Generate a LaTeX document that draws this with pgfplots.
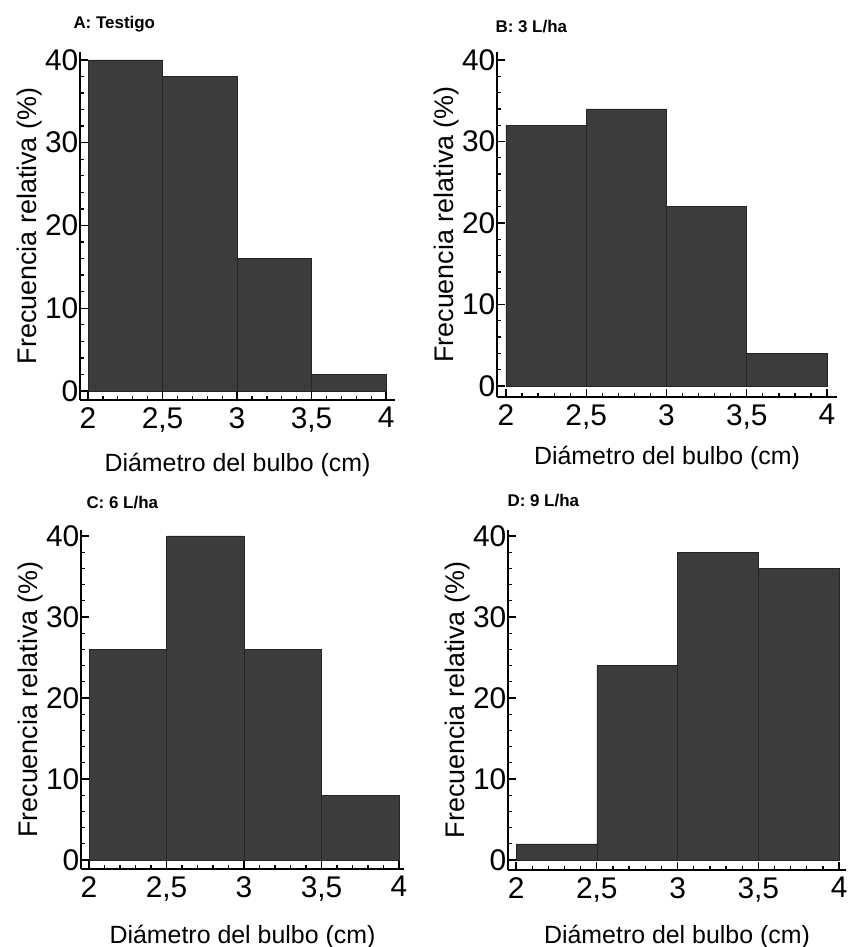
\documentclass[border=0pt]{standalone}
\usepackage{pgfplots}
\pgfplotsset{compat=1.18}
\usepackage{fontspec}
\setmainfont{Liberation Sans}
\definecolor{barfill}{RGB}{60,60,60}
\newcommand{\lblfont}{\fontsize{25}{28}\selectfont}
\newcommand{\ylblfont}{\fontsize{27}{30}\selectfont}
\pgfplotsset{
  hist/.style={
    scale only axis,
    axis lines=left,
    axis line style={-, line width=2bp, black},
    /pgf/number format/assume math mode=true,
    xtick={2,2.5,3,3.5,4},
    xticklabels={2,{2,5},3,{3,5},4},
    ytick={0,10,20,30,40},
    minor x tick num=4,
    minor y tick num=4,
    major tick length=8bp,
    minor tick length=4bp,
    every tick/.style={black, line width=1.3bp},
    tick align=inside,
    ticklabel style={font=\fontsize{30}{32}\selectfont},
    yticklabel style={inner sep=1.5bp},
    xticklabel style={inner sep=2bp, yshift=-5bp},
    ylabel={Frecuencia relativa (\%)},
    xlabel={Diámetro del bulbo (cm)},
    every axis y label/.style={at={([xshift=-50bp]axis description cs:0,0.5)}, rotate=90, anchor=center, font=\ylblfont},
    every axis x label/.style={at={([yshift=-65bp]axis description cs:0.5,0)}, anchor=center, font=\lblfont},
    title style={font=\fontsize{17}{19}\selectfont\bfseries, anchor=west},
    clip=false,
  },
  barplot/.style={ybar interval, fill=barfill, draw=black!85, line width=0.6bp},
}
\begin{document}
\begin{tikzpicture}
\useasboundingbox (0,0) rectangle (848bp,947bp);
% A
\begin{axis}[hist, at={(80bp,547bp)}, width=315bp, height=348bp,
  xmin=1.946, xmax=4.06, ymin=-1.09, ymax=40.96,
  title={A: Testigo}, title style={at={(axis description cs:0,1)}, xshift=-10bp, yshift=22bp}]
\addplot[barplot] coordinates {(2,40) (2.5,38) (3,16) (3.5,2) (4,2)};
\end{axis}
% B
\begin{axis}[hist, at={(497bp,550bp)}, width=340bp, height=345bp,
  xmin=1.944, xmax=4.062, ymin=-1.35, ymax=40.98,
  every axis x label/.style={at={([yshift=-61bp]axis description cs:0.5,0)}, anchor=center, font=\lblfont},
  title={B: 3 L/ha}, title style={at={(axis description cs:0,1)}, xshift=-5bp, yshift=19bp}]
\addplot[barplot] coordinates {(2,32) (2.5,34) (3,22) (3.5,4) (4,4)};
\end{axis}
% C
\begin{axis}[hist, at={(81bp,78bp)}, width=323bp, height=339bp,
  xmin=1.948, xmax=4.032, ymin=-1.11, ymax=40.74,
  every axis x label/.style={at={([yshift=-68bp]axis description cs:0.5,0)}, anchor=center, font=\lblfont},
  title={C: 6 L/ha}, title style={at={(axis description cs:0,1)}, xshift=2bp, yshift=21bp}]
\addplot[barplot] coordinates {(2,26) (2.5,40) (3,26) (3.5,8) (4,8)};
\end{axis}
% D
\begin{axis}[hist, at={(508bp,77bp)}, width=338bp, height=340bp,
  xmin=1.95, xmax=4.043, ymin=-1.23, ymax=40.74,
  every axis x label/.style={at={([yshift=-67bp]axis description cs:0.5,0)}, anchor=center, font=\lblfont},
  title={D: 9 L/ha}, title style={at={(axis description cs:0,1)}, xshift=-4bp, yshift=23bp}]
\addplot[barplot] coordinates {(2,2) (2.5,24) (3,38) (3.5,36) (4,36)};
\end{axis}
\end{tikzpicture}
\end{document}
